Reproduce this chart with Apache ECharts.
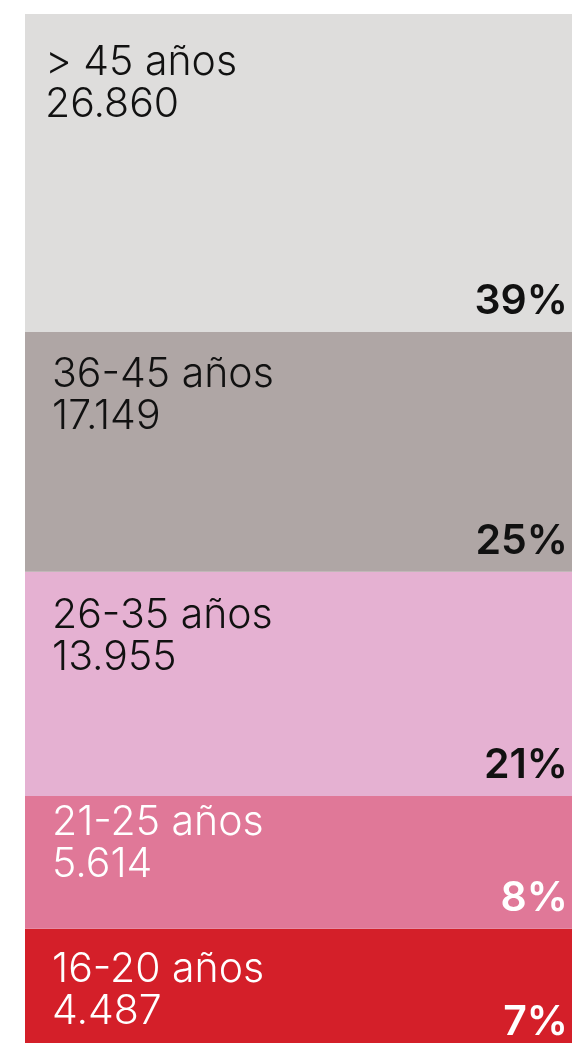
<!DOCTYPE html>
<html>
<head>
<meta charset="utf-8">
<script src="https://cdn.jsdelivr.net/npm/echarts@6/dist/echarts.min.js"></script>
<style>
  html, body { margin: 0; padding: 0; background: #fff; }
  #chart { width: 572px; height: 1043px; }
</style>
</head>
<body>
<div id="chart"></div>
<script>
// tramos de edad, de arriba abajo
const tramos = ['> 45 años', '36-45 años', '26-35 años', '21-25 años', '16-20 años']
const personas = [26860, 17149, 13955, 5614, 4487]
const porcentajes = [39, 25, 21, 8, 7]
// reparto de la columna tal como se dibuja en el original (% del alto)
const cuotaColumna = [30.9, 23.3, 21.8, 12.9, 11.1]

const colores = ['#dedddc', '#afa6a5', '#e5b1d2', '#e07898', '#d41f29']
const colorTexto = ['#111', '#111', '#111', '#fff', '#fff']
const margenTexto = [[15, 23], [22, 17], [22, 18], [22, 1], [22, 15]]
const margenPct = [[1, -5], [1, -5], [1, -5], [1, -5], [1, 5]]

function miles(n) {
  return String(n).replace(/\B(?=(\d{3})+(?!\d))/g, '.')
}

var chart = echarts.init(document.getElementById('chart'))

let series = []
// se apilan de abajo arriba
for (let i = tramos.length - 1; i >= 0; i--) {
  series.push({
    type: 'bar',
    stack: 'edad',
    barWidth: '100%',
    barGap: '-100%',
    data: [cuotaColumna[i]],
    itemStyle: { color: colores[i] },
    label: {
      show: true,
      position: 'insideTopLeft',
      offset: margenTexto[i],
      formatter: tramos[i] + '\n' + miles(personas[i]),
      fontFamily: 'Inter',
      fontWeight: 300,
      fontSize: 41,
      lineHeight: 42,
      color: colorTexto[i]
    },
    silent: true
  })
}
for (let i = tramos.length - 1; i >= 0; i--) {
  series.push({
    type: 'bar',
    stack: 'pct',
    barWidth: '100%',
    barGap: '-100%',
    data: [cuotaColumna[i]],
    itemStyle: { color: 'rgba(0,0,0,0)' },
    label: {
      show: true,
      position: 'insideBottomRight',
      offset: margenPct[i],
      formatter: porcentajes[i] + '%',
      fontFamily: 'Inter',
      fontWeight: 600,
      fontSize: 41,
      color: colorTexto[i]
    },
    silent: true
  })
}

chart.setOption({
  animation: false,
  grid: { left: 25, right: 0, top: 14, bottom: 0 },
  xAxis: {
    type: 'category',
    data: ['edad'],
    show: false
  },
  yAxis: {
    type: 'value',
    min: 0,
    max: 100,
    show: false
  },
  series
})
</script>
</body>
</html>
